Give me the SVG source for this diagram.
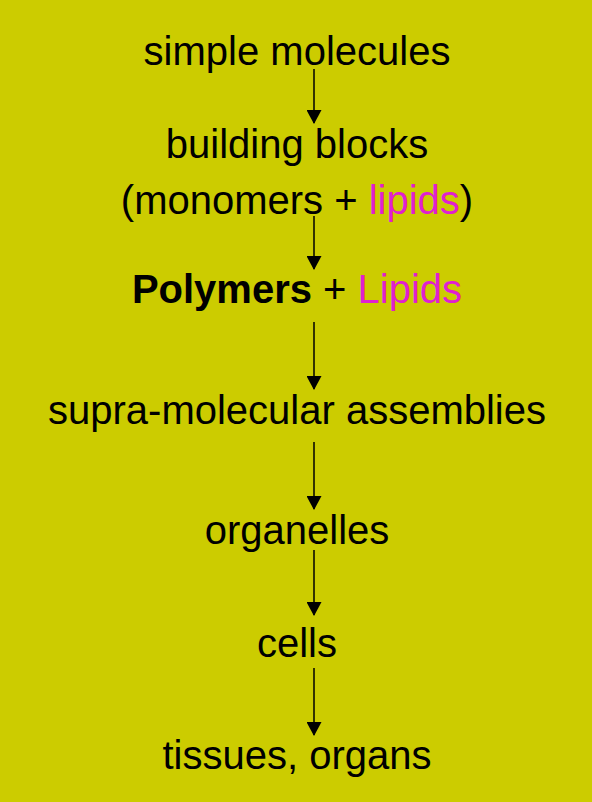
<svg xmlns="http://www.w3.org/2000/svg" width="592" height="802" viewBox="0 0 592 802">
<defs>
<style>
.t{font-family:"Liberation Sans",Arial,sans-serif;font-size:40px;fill:#000;text-anchor:middle}
.m{fill:#E020D0}
.b{font-weight:bold}
.c{stroke:#000;stroke-width:1.5;fill:none}
</style>
<marker id="ah" markerWidth="14" markerHeight="15" refX="13" refY="7.5" orient="auto" markerUnits="userSpaceOnUse" viewBox="0 0 14 15">
<path d="M0,0 L14,7.5 L0,15 Z" fill="#000"/>
</marker>
</defs>
<rect width="592" height="802" fill="#CCCC00"/>
<g id="connectors">
<line class="c" x1="314" y1="69" x2="314" y2="123" marker-end="url(#ah)"/>
<line class="c" x1="314" y1="216" x2="314" y2="269" marker-end="url(#ah)"/>
<line class="c" x1="314" y1="322" x2="314" y2="389" marker-end="url(#ah)"/>
<line class="c" x1="314" y1="442" x2="314" y2="509" marker-end="url(#ah)"/>
<line class="c" x1="314" y1="550" x2="314" y2="615" marker-end="url(#ah)"/>
<line class="c" x1="314" y1="668" x2="314" y2="735" marker-end="url(#ah)"/>
</g>
<g id="simple-molecules"><text class="t" x="297" y="65">simple molecules</text></g>
<g id="building-blocks">
<text class="t" x="297" y="158">building blocks</text>
<text class="t" x="297" y="214">(monomers + <tspan class="m">lipids</tspan>)</text>
</g>
<g id="polymers"><text class="t" x="297" y="303"><tspan class="b">Polymers</tspan> + <tspan class="m">Lipids</tspan></text></g>
<g id="supra"><text class="t" x="297" y="424">supra-molecular assemblies</text></g>
<g id="organelles"><text class="t" x="297" y="544">organelles</text></g>
<g id="cells"><text class="t" x="297" y="657">cells</text></g>
<g id="tissues"><text class="t" x="297" y="769">tissues, organs</text></g>
</svg>
